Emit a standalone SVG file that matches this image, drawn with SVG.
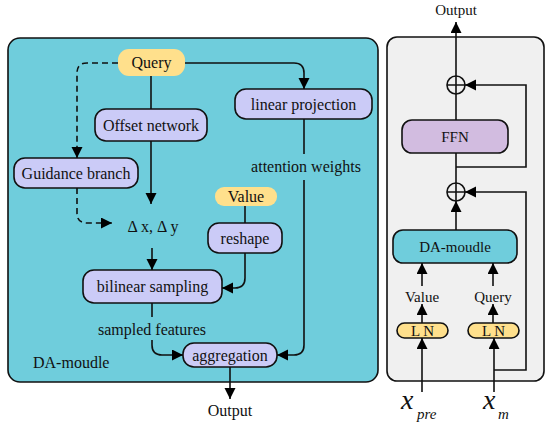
<svg xmlns="http://www.w3.org/2000/svg" width="550" height="425" viewBox="0 0 550 425" font-family="'Liberation Serif', 'Times New Roman', 'DejaVu Serif', serif">
<defs>
<marker id="ah" markerUnits="userSpaceOnUse" markerWidth="12" markerHeight="12" refX="11" refY="5.5" orient="auto">
<path d="M0,0 L11,5.5 L0,11 z" fill="#000"/>
</marker>
<style>
text{font-family:'Liberation Serif','Times New Roman','DejaVu Serif',serif;fill:#111;}
.t{font-size:16px;text-anchor:middle;}
.s{font-size:15px;text-anchor:middle;}
.node{fill:#CBCBF7;stroke:#111;stroke-width:1.6;}
.yel{fill:#FFE08C;stroke:none;}
.yelb{fill:#FFE08C;stroke:#111;stroke-width:1.6;}
.c{fill:none;stroke:#111;stroke-width:1.6;}
.d{fill:none;stroke:#111;stroke-width:1.6;stroke-dasharray:6,4;}
.a{marker-end:url(#ah);}
</style>
</defs>
<rect width="550" height="425" fill="#fff"/>
<g id="panel-left">
<rect x="8" y="38" width="370" height="344" rx="12" fill="#6FCDDC" stroke="#111" stroke-width="1.6"/>
<text x="33" y="368" style="font-size:16px">DA-moudle</text>
</g>
<g id="panel-right">
<rect x="387" y="37" width="157" height="344" rx="10" fill="#F0F0F0" stroke="#111" stroke-width="1.6"/>
</g>
<g id="query"><rect class="yel" x="118" y="49" width="67" height="27" rx="11"/><text class="t" x="151.5" y="68">Query</text></g>
<g id="offset"><rect class="node" x="95" y="109" width="112" height="32" rx="11"/><text class="t" x="151" y="130.5">Offset network</text></g>
<g id="guidance"><rect class="node" x="14" y="158" width="124" height="30" rx="11"/><text class="t" x="76" y="178.5">Guidance branch</text></g>
<g id="linproj"><rect class="node" x="235" y="89" width="137" height="30" rx="11"/><text class="t" x="303.5" y="109.5">linear projection</text></g>
<g id="value"><rect class="yel" x="215" y="187" width="62" height="19" rx="9"/><text class="t" x="246" y="201.5">Value</text></g>
<g id="reshape"><rect class="node" x="208" y="223" width="74" height="30" rx="11"/><text class="t" x="245" y="243.5">reshape</text></g>
<g id="bilinear"><rect class="node" x="83" y="270" width="139" height="33" rx="11"/><text class="t" x="152.5" y="292">bilinear sampling</text></g>
<g id="aggregation"><rect class="node" x="183" y="343" width="94" height="24" rx="11"/><text class="t" x="230" y="360.5">aggregation</text></g>
<g id="labels-left">
<text class="t" x="153" y="232">Δ x, Δ y</text>
<text class="t" x="306" y="172">attention weights</text>
<text class="t" x="152" y="335">sampled features</text>
<text class="t" x="230" y="416">Output</text>
</g>
<g id="ffn"><rect x="402" y="120" width="106" height="33" rx="10" fill="#D2BCE0" stroke="#111" stroke-width="1.6"/><text class="s" x="455" y="141.5">FFN</text></g>
<g id="damod"><rect x="393" y="230" width="124" height="33" rx="10" fill="#6FCDDC" stroke="#111" stroke-width="1.6"/><text class="s" x="455" y="252">DA-moudle</text></g>
<g id="ln1"><rect class="yelb" x="397" y="323" width="51" height="15" rx="7.5"/><text class="s" x="422.5" y="335.5">L N</text></g>
<g id="ln2"><rect class="yelb" x="468" y="323" width="51" height="15" rx="7.5"/><text class="s" x="493.5" y="335.5">L N</text></g>
<g id="plus1"><circle cx="456" cy="85" r="9" fill="none" stroke="#111" stroke-width="1.6"/><path d="M447,85 H465 M456,76 V94" class="c"/></g>
<g id="plus2"><circle cx="456" cy="192" r="9" fill="none" stroke="#111" stroke-width="1.6"/><path d="M447,192 H465 M456,183 V201" class="c"/></g>
<g id="labels-right">
<text class="s" x="456" y="15">Output</text>
<text class="s" x="422" y="302">Value</text>
<text class="s" x="493" y="302">Query</text>
<text x="401" y="409" style="font-size:28px;font-style:italic">x</text>
<text x="417" y="419" style="font-size:15px;font-style:italic">pre</text>
<text x="483" y="409" style="font-size:28px;font-style:italic">x</text>
<text x="498" y="419" style="font-size:15px;font-style:italic">m</text>
</g>
<g id="connectors">
<path class="c" d="M151,76 V109"/>
<path class="c a" d="M151,141 V204"/>
<path class="c a" d="M185,63 H294 Q304,63 304,73 V89"/>
<path class="d a" d="M118,63 H87 Q77,63 77,73 V158"/>
<path class="d a" d="M77,188 V213 Q77,223 87,223 H112"/>
<path class="c a" d="M152,248 V270"/>
<path class="c" d="M304,119 V154"/>
<path class="c a" d="M304,180 V345 Q304,355 294,355 H277"/>
<path class="c" d="M245,206 V223"/>
<path class="c a" d="M245,253 V278 Q245,288 235,288 H222"/>
<path class="c" d="M152,303 V317"/>
<path class="c a" d="M152,340 V345 Q152,355 162,355 H183"/>
<path class="c a" d="M230,367 V399"/>
<path class="c a" d="M456,76 V22"/>
<path class="c" d="M456,94 V120"/>
<path class="c" d="M456,153 V183"/>
<path class="c a" d="M456,167 H526 V85 H465"/>
<path class="c a" d="M494,370 H526 V192 H465"/>
<path class="c a" d="M456,230 V201"/>
<path class="c a" d="M422,286 V263"/>
<path class="c a" d="M493,286 V263"/>
<path class="c a" d="M422,323 V304"/>
<path class="c a" d="M493,323 V304"/>
<path class="c a" d="M422,392 V338"/>
<path class="c a" d="M494,392 V338"/>
</g>
</svg>
